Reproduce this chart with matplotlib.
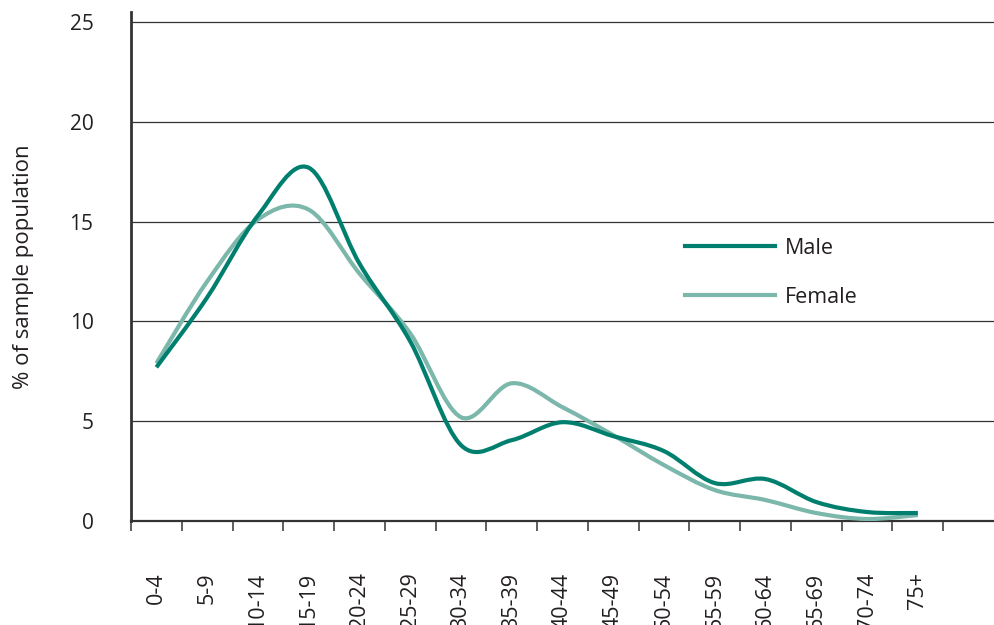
import matplotlib
matplotlib.use("Agg")
import matplotlib.pyplot as plt
import numpy as np
from matplotlib.path import Path
from matplotlib.patches import PathPatch
from matplotlib.lines import Line2D

plt.rcParams['font.family'] = ['Open Sans', 'DejaVu Sans']

# Age groups and share of the sample population (%)
age_groups = ['0-4', '5-9', '10-14', '15-19', '20-24', '25-29', '30-34', '35-39',
              '40-44', '45-49', '50-54', '55-59', '60-64', '65-69', '70-74', '75+']
male = [7.7, 11.2, 15.3, 17.7, 12.9, 9.0, 3.8, 4.05,
        4.95, 4.25, 3.5, 1.9, 2.1, 0.95, 0.45, 0.4]
female = [7.9, 12.0, 15.1, 15.6, 12.4, 9.4, 5.2, 6.9,
          5.7, 4.3, 2.8, 1.55, 1.05, 0.4, 0.1, 0.3]

male_color = '#007f6e'
female_color = '#7cb7ab'
text_color = '#231f20'


def smooth_path(x, y):
    """Excel-style smoothed line: cubic Bezier segments through the points."""
    pts = np.column_stack([x, y]).astype(float)
    n = len(pts)
    verts = [pts[0]]
    codes = [Path.MOVETO]
    for i in range(n - 1):
        p0 = pts[i - 1] if i > 0 else pts[i]
        p1 = pts[i]
        p2 = pts[i + 1]
        p3 = pts[i + 2] if i + 2 < n else pts[i + 1]
        c1 = p1 + (p2 - p0) / 6.0
        c2 = p2 - (p3 - p1) / 6.0
        verts += [c1, c2, p2]
        codes += [Path.CURVE4] * 3
    return Path(verts, codes)


fig = plt.figure(figsize=(9.94, 6.25), dpi=100)
ax = fig.add_axes([131 / 994, 1 - 521 / 625, 1 - 131 / 994, 509 / 625])

xs = np.arange(len(age_groups))
for vals, col in [(female, female_color), (male, male_color)]:
    ax.add_patch(PathPatch(smooth_path(xs, vals), facecolor='none',
                           edgecolor=col, lw=3, capstyle='butt', zorder=3))

ax.set_xlim(-0.5, 16.5)
ax.set_ylim(0, 25.5)

ax.set_yticks([0, 5, 10, 15, 20, 25])
ax.grid(axis='y', color='#333333', lw=0.9)
ax.set_axisbelow(True)
ax.tick_params(axis='y', length=0, pad=27, labelsize=15, labelcolor=text_color)

ax.set_xticks(xs)
ax.set_xticklabels(age_groups, rotation=90, va='top', ha='center')
ax.set_xticks(np.arange(-0.5, 16.0, 1.0), minor=True)
ax.tick_params(axis='x', which='major', length=0, pad=37, labelsize=15.5,
               labelcolor=text_color)
ax.tick_params(axis='x', which='minor', length=7, width=1.1, color='#333333')

for side in ['top', 'right']:
    ax.spines[side].set_visible(False)
ax.spines['left'].set_linewidth(2)
ax.spines['left'].set_color('#333333')
ax.spines['bottom'].set_linewidth(1.6)
ax.spines['bottom'].set_color('#333333')

ax.set_ylabel('% of sample population', fontsize=16, color=text_color)
ax.yaxis.set_label_coords(-0.112, 0.5)

handles = [Line2D([], [], color=male_color, lw=3),
           Line2D([], [], color=female_color, lw=3)]
fig.legend(handles, ['Male', 'Female'], loc='upper left',
           bbox_to_anchor=(685 / 994, 1 - 238 / 625), frameon=False,
           fontsize=15.5, handlelength=4.2, handletextpad=0.45,
           labelspacing=1.3, borderpad=0, borderaxespad=0,
           labelcolor=text_color)

fig.savefig('out.png', dpi=100)
